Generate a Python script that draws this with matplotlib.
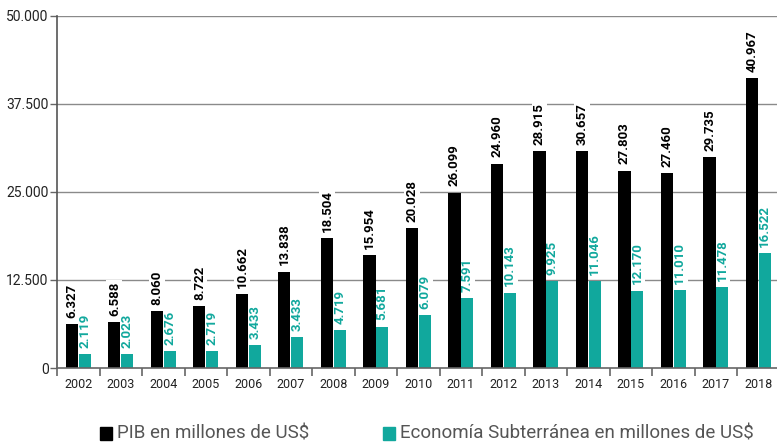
import matplotlib.pyplot as plt
import numpy as np

plt.rcParams['font.family'] = ['Roboto', 'DejaVu Sans']

years = ['2002', '2003', '2004', '2005', '2006', '2007', '2008', '2009', '2010',
         '2011', '2012', '2013', '2014', '2015', '2016', '2017', '2018']

# bar heights as drawn in the picture (millones de US$)
pib = [6200, 6500, 8100, 8800, 10500, 13700, 18400, 16000, 19800,
       24900, 29000, 30800, 30800, 28000, 27600, 29900, 41100]
sub = [2000, 2000, 2400, 2400, 3300, 4400, 5400, 5900, 7500,
       9950, 10700, 12300, 12300, 11000, 11100, 11500, 16300]

# labels as printed above the bars
pib_labels = ['6.327', '6.588', '8.060', '8.722', '10.662', '13.838', '18.504', '15.954', '20.028',
              '26.099', '24.960', '28.915', '30.657', '27.803', '27.460', '29.735', '40.967']
sub_labels = ['2.119', '2.023', '2.676', '2.719', '3.433', '3.433', '4.719', '5.681', '6.079',
              '7.591', '10.143', '9.925', '11.046', '12.170', '11.010', '11.478', '16.522']

yticks = [0, 12500, 25000, 37500, 50000]
ytick_labels = ['0', '12.500', '25.000', '37.500', '50.000']

TEAL = '#11a89d'
GRID = '#8a8a8a'

fig = plt.figure(figsize=(7.77, 4.43), dpi=100)
ax = fig.add_axes([0.0734, 0.169, 0.93, 0.796])

x = np.arange(len(years))
w = 0.285
off = 0.15

for yv in yticks[1:]:
    ax.axhline(yv, color=GRID, lw=1.0, zorder=0)

ax.bar(x - off, pib, width=w, color='black', zorder=2)
ax.bar(x + off, sub, width=w, color=TEAL, zorder=2)

pad = 900
for i in range(len(years)):
    ax.text(x[i] - off, pib[i] + pad, pib_labels[i], rotation=90, ha='center', va='bottom',
            fontsize=9.5, fontweight='bold', color='black', zorder=1,
            bbox=dict(facecolor='white', edgecolor='none', pad=1.0))
    ax.text(x[i] + off, sub[i] + pad, sub_labels[i], rotation=90, ha='center', va='bottom',
            fontsize=9.5, fontweight='bold', color=TEAL, zorder=1,
            bbox=dict(facecolor='white', edgecolor='none', pad=1.0))

ax.set_xlim(-0.5, len(years) - 0.5)
ax.set_ylim(0, 50000)

ax.set_yticks(yticks)
ax.set_yticklabels(ytick_labels)
ax.set_xticks(x)
ax.set_xticklabels(years)
ax.set_xticks(np.arange(-0.5, len(years) - 0.5, 1.0), minor=True)
ax.tick_params(axis='x', which='major', length=0, pad=7, labelsize=9, colors='#222222')
ax.tick_params(axis='x', which='minor', length=6, width=1.2, color='#666666')
ax.tick_params(axis='y', length=5, width=1.0, color='#666666', labelsize=10,
               labelcolor='#222222', pad=1)

for s in ['top', 'right']:
    ax.spines[s].set_visible(False)
ax.spines['left'].set_color('#555555')
ax.spines['left'].set_linewidth(1.2)
ax.spines['bottom'].set_color('#666666')
ax.spines['bottom'].set_linewidth(1.2)

# legend
fig.patches.append(plt.Rectangle((100 / 777, 1 - 440 / 443), 12 / 777, 13 / 443,
                                 transform=fig.transFigure, color='black'))
fig.text(117 / 777, 1 - 433 / 443, 'PIB en millones de US$', fontsize=13.5,
         color='#555555', va='center', ha='left')
fig.patches.append(plt.Rectangle((383 / 777, 1 - 440 / 443), 12 / 777, 13 / 443,
                                 transform=fig.transFigure, color=TEAL))
fig.text(400 / 777, 1 - 433 / 443, 'Economía Subterránea en millones de US$', fontsize=13.5,
         color='#555555', va='center', ha='left')

fig.savefig('out.png', dpi=100)
